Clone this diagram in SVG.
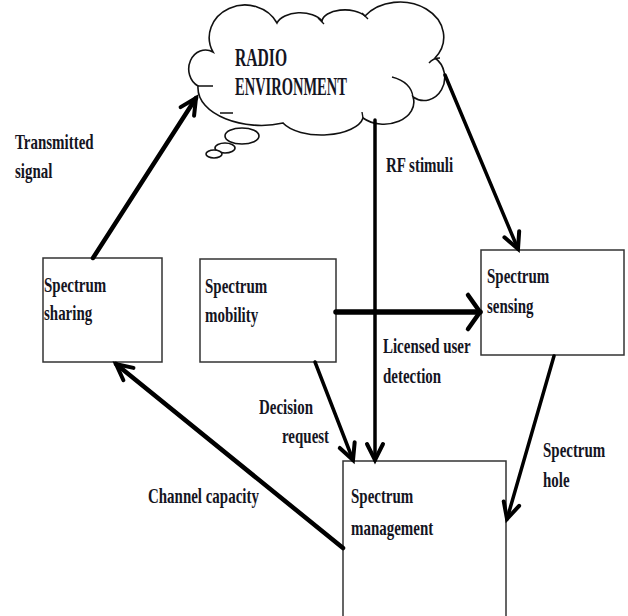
<svg xmlns="http://www.w3.org/2000/svg" width="628" height="616" viewBox="0 0 628 616">
<style>
.box{fill:#fff;stroke:#333;stroke-width:1.5}
.cl{fill:#fff;stroke:#111;stroke-width:1.6}
.cli{fill:none;stroke:#111;stroke-width:1.4}
.t{font-family:"Liberation Serif","Times New Roman",serif;font-weight:bold;font-size:22px;fill:#15151f}
.tb{font-family:"Liberation Serif","Times New Roman",serif;font-weight:bold;font-size:25px;fill:#15151f}
.c{fill:none;stroke:#000;stroke-linecap:round}
</style>
<defs>
<marker id="ah" viewBox="-20 -14 24 28" refX="0" refY="0" markerWidth="24" markerHeight="28" markerUnits="userSpaceOnUse" orient="auto" overflow="visible">
<path d="M-16,-8 L0,0 L-16,8" fill="none" stroke="#000" stroke-width="4" stroke-linecap="round"/>
</marker>
<marker id="ahw" viewBox="-20 -20 24 40" refX="0" refY="0" markerWidth="24" markerHeight="40" markerUnits="userSpaceOnUse" orient="auto" overflow="visible">
<path d="M-12,-17 L0,0 L-12,17" fill="none" stroke="#000" stroke-width="4.5" stroke-linecap="round"/>
</marker>
</defs>

<g id="cloud">
<path class="cl" d="M198,86 A15,17 0 0 1 213,52 A33,30 0 0 1 277,23 A24,14 0 0 1 322,21 A23,12 0 0 1 365,16 A40,32 0 0 1 435,58 A18,20 0 0 1 413,97 A30,22 0 0 1 363,118 A42,20 0 0 1 283,123 C245,132 196,115 198,86 Z"/>
<path class="cli" d="M198,86 L213,86 M220,113 L233,113 M392,77 Q411,82 413,97 M429,63 Q433,58 440,58 M362,112 L363,118 M318,18 L324,24 M362,13 L368,19"/>
<ellipse class="cl" cx="242" cy="136" rx="17" ry="8"/>
<ellipse class="cl" cx="225" cy="148" rx="10" ry="5"/>
<ellipse class="cl" cx="214" cy="154" rx="8" ry="4"/>
<text class="tb" transform="translate(235,66) scale(0.625,1)">RADIO</text>
<text class="tb" transform="translate(235,95) scale(0.58,1)">ENVIRONMENT</text>
</g>

<g id="sharing">
<rect class="box" x="43" y="258" width="119" height="104"/>
<text class="t" transform="translate(44,292) scale(0.68,1)">Spectrum</text>
<text class="t" transform="translate(44,320) scale(0.68,1)">sharing</text>
</g>

<g id="mobility">
<rect class="box" x="200" y="259" width="136" height="103"/>
<text class="t" transform="translate(205,293) scale(0.68,1)">Spectrum</text>
<text class="t" transform="translate(205,322) scale(0.68,1)">mobility</text>
</g>

<g id="sensing">
<rect class="box" x="481" y="250" width="143" height="105"/>
<text class="t" transform="translate(487,283) scale(0.68,1)">Spectrum</text>
<text class="t" transform="translate(487,313) scale(0.68,1)">sensing</text>
</g>

<g id="management">
<rect class="box" x="343" y="461" width="163" height="165"/>
<text class="t" transform="translate(351,503) scale(0.68,1)">Spectrum</text>
<text class="t" transform="translate(351,535) scale(0.68,1)">management</text>
</g>

<g id="connectors">
<path class="c" stroke-width="4.5" d="M93,258 L196,98" marker-end="url(#ah)"/>
<path class="c" stroke-width="3.5" d="M375,120 L375,460" marker-end="url(#ah)"/>
<path class="c" stroke-width="3.5" d="M445,75 L518,249" marker-end="url(#ah)"/>
<path class="c" stroke-width="5.5" d="M336,312 L480,312" marker-end="url(#ahw)"/>
<path class="c" stroke-width="3.5" d="M315,362 L353,460" marker-end="url(#ah)"/>
<path class="c" stroke-width="3.5" d="M554,356 L507,519" marker-end="url(#ah)"/>
<path class="c" stroke-width="4.5" d="M343,548 L116,364" marker-end="url(#ah)"/>
</g>

<g id="labels">
<text class="t" transform="translate(15,149) scale(0.68,1)">Transmitted</text>
<text class="t" transform="translate(15,178) scale(0.68,1)">signal</text>
<text class="t" transform="translate(386,172) scale(0.68,1)">RF stimuli</text>
<text class="t" transform="translate(383,353) scale(0.68,1)">Licensed user</text>
<text class="t" transform="translate(383,383) scale(0.68,1)">detection</text>
<text class="t" transform="translate(259,414) scale(0.68,1)">Decision</text>
<text class="t" transform="translate(282,443) scale(0.68,1)">request</text>
<text class="t" transform="translate(148,503) scale(0.68,1)">Channel capacity</text>
<text class="t" transform="translate(543,457) scale(0.68,1)">Spectrum</text>
<text class="t" transform="translate(543,487) scale(0.68,1)">hole</text>
</g>
</svg>
